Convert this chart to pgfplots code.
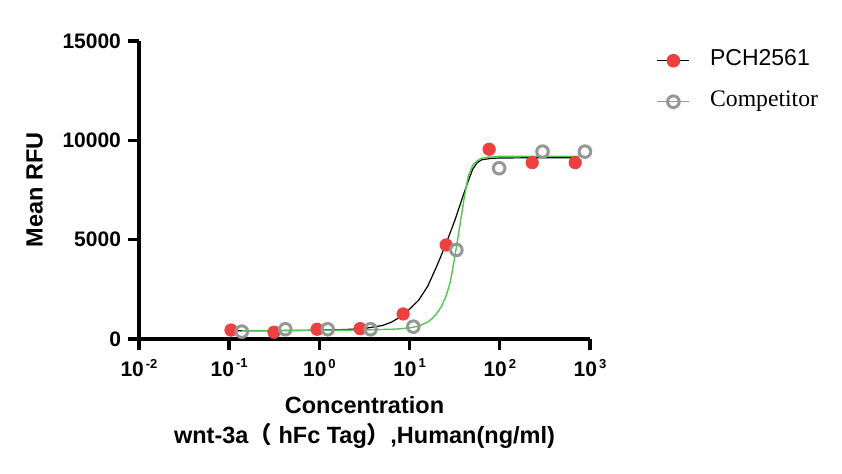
\documentclass[border=0pt]{standalone}
\usepackage{fontspec}
\setmainfont{Liberation Sans}
\newfontfamily\timesfont{Liberation Serif}
\newfontfamily\cjk{Noto Sans CJK SC}
\usepackage{pgfplots}
\pgfplotsset{compat=1.18}
\definecolor{pchred}{RGB}{238,64,64}
\definecolor{compgrey}{RGB}{150,150,150}
\definecolor{fitgreen}{RGB}{80,200,80}
\newcommand{\tenp}[1]{\textbf{10}\hspace{1pt}\raisebox{0.42em}{\fontsize{6.5}{6.5}\selectfont\textbf{#1}}}
\begin{document}
\begin{tikzpicture}
\path[use as bounding box] (-69.5pt,-67.5pt) rectangle (351.5pt,169.5pt);
\begin{axis}[
  at={(0,0)}, anchor=south west,
  scale only axis,
  width=225.5pt, height=149pt,
  xmode=log,
  xmin=0.01, xmax=1000,
  ymin=0, ymax=15000,
  scaled y ticks=false,
  axis x line=bottom, axis y line=left,
  axis line style={-, line width=1.7pt},
  every tick/.style={black, line width=1.7pt},
  tick align=outside,
  major tick length=5.5pt,
  xminorticks=false, yminorticks=false,
  xtick={0.01,0.1,1,10,100,1000},
  xticklabels={\tenp{-2},\tenp{-1},\tenp{0},\tenp{1},\tenp{2},\tenp{3}},
  ytick={0,5000,10000,15000},
  yticklabels={\textbf{0},\textbf{5000},\textbf{10000},\textbf{15000}},
  ticklabel style={font=\fontsize{10.5}{12}\selectfont},
  xticklabel style={yshift=-1pt},
  xlabel={\textbf{Concentration}\\\textbf{wnt-3a{\cjk （}\ hFc Tag{\cjk ）},Human(ng/ml)}},
  xlabel style={align=center, font=\fontsize{11.75}{15}\selectfont, yshift=-3pt},
  ylabel={\textbf{Mean RFU}},
  ylabel style={font=\fontsize{11.75}{14}\selectfont, yshift=3pt},
  clip=false,
  legend style={draw=none, fill=none, at={(axis description cs:1.147,0.972)}, anchor=north west,
    row sep=9.5pt, inner sep=0pt, column sep=10pt,
    nodes={inner sep=0pt, text height=8pt, text depth=3pt}},
  legend cell align=left,
  legend image code/.code={
    \draw[mark repeat=2,mark phase=2,#1] plot coordinates {(0pt,0pt)(8pt,0pt)(16pt,0pt)};
  },
]
% fitted curves
\addplot[black, line width=0.6pt, forget plot] coordinates {
(0.1047,415) (0.316,420) (1,440) (2,480) (3.16,530) (5.01,680) (6.31,850) (7.94,1120)
(10,1500) (12.59,1950) (15.85,2650) (19.95,3650) (25.12,4750) (31.62,5950) (39.81,7300)
(44.67,7950) (50.12,8550) (56.23,8880) (63.1,9020) (79.43,9090) (100,9110) (199.5,9120) (685.5,9120)};
\addplot[fitgreen, line width=0.7pt, forget plot] coordinates {
(0.138,425) (0.316,428) (1,435) (3.16,455) (6.31,490) (7.94,515) (10,560) (12.59,650)
(15.85,850) (17.78,1030) (19.95,1280) (22.39,1620) (25.12,2100) (28.18,2850) (31.62,4100)
(35.48,5500) (39.81,6950) (44.67,8200) (50.12,8750) (56.23,8970) (63.1,9100) (79.43,9170)
(100,9190) (316,9200) (879,9200)};
% data
\addplot[only marks, mark=*, mark size=3.1pt, mark options={draw=pchred, fill=pchred}, forget plot] coordinates {
(0.1047,450) (0.314,340) (0.942,490) (2.825,520) (8.47,1260) (25.4,4730) (76.2,9550) (228.6,8877) (685.5,8877)};
\addplot[only marks, mark=o, mark size=2.9pt, mark options={draw=compgrey, line width=1.5pt}, forget plot] coordinates {
(0.138,370) (0.419,490) (1.236,490) (3.69,490) (11.0,620) (33.0,4481) (98.4,8595) (297.8,9431) (879,9431)};
\addlegendimage{black, line width=0.6pt, mark=*, mark size=3.1pt, mark options={draw=pchred, fill=pchred}}
\addlegendentry{\fontsize{11.5}{12}\selectfont PCH2561}
\addlegendimage{fitgreen, line width=0.7pt, mark=o, mark size=2.9pt, mark options={draw=compgrey, line width=1.5pt}}
\addlegendentry{\fontsize{11.85}{12}\selectfont\timesfont Competitor}
\end{axis}
\end{tikzpicture}
\end{document}
